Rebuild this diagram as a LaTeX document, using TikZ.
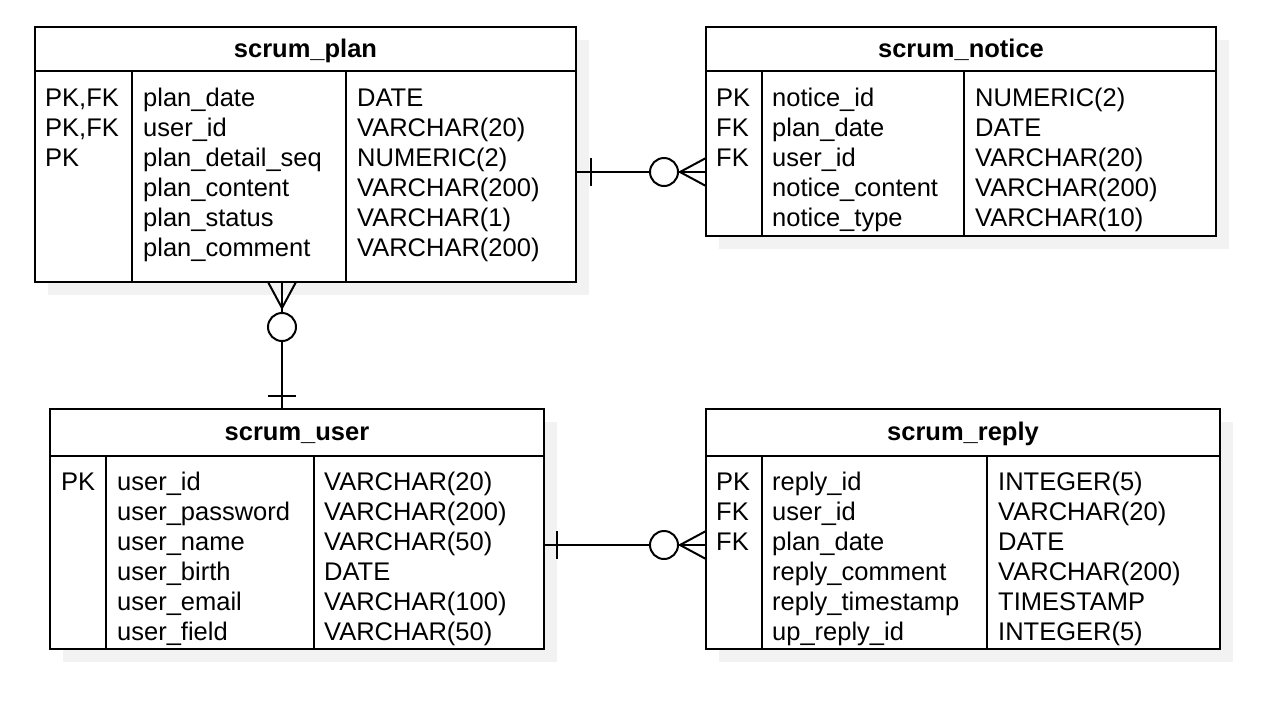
\documentclass[tikz,border=0pt]{standalone}
\usepackage{fontspec}
\setmainfont{Liberation Sans}
\usetikzlibrary{shadows}

\tikzset{
  tbl/.style={draw, line width=2pt, fill=white, inner sep=0pt, outer sep=0pt,
    drop shadow={shadow xshift=13pt, shadow yshift=-13pt, opacity=1, fill=black!5}},
  cell/.style={anchor=base west, inner sep=0pt, font=\fontsize{25.5}{30}\selectfont},
  ttl/.style={anchor=base, inner sep=0pt, font=\fontsize{25.5}{30}\selectfont\bfseries},
  rule/.style={line width=2pt},
  link/.style={line width=2pt},
}

\begin{document}
\begin{tikzpicture}[x=1pt, y=-1pt]
  \useasboundingbox (0,0) rectangle (1286,724);

  % tables
  \node[tbl, minimum width=541, minimum height=255] (plan) at (305.5,154.5) {};
  \node[tbl, minimum width=510, minimum height=209] (notice) at (961,131.5) {};
  \node[tbl, minimum width=494, minimum height=240] (user) at (297,529) {};
  \node[tbl, minimum width=514, minimum height=240] (reply) at (963,529) {};

  \begin{scope}[rule]
    \draw (plan.west |- 0,71) -- (plan.east |- 0,71);
    \draw (plan.south -| 132,0) -- (132,71);
    \draw (plan.south -| 346,0) -- (346,71);
    \draw (notice.west |- 0,71) -- (notice.east |- 0,71);
    \draw (notice.south -| 762,0) -- (762,71);
    \draw (notice.south -| 964,0) -- (964,71);
    \draw (user.west |- 0,456) -- (user.east |- 0,456);
    \draw (user.south -| 106,0) -- (106,456);
    \draw (user.south -| 314,0) -- (314,456);
    \draw (reply.west |- 0,456) -- (reply.east |- 0,456);
    \draw (reply.south -| 762,0) -- (762,456);
    \draw (reply.south -| 987,0) -- (987,456);
  \end{scope}

  % scrum_plan
  \node[ttl] (plan-title) at (305.5,57) {scrum\_plan};
  \foreach \t [count=\i from 0] in {{PK,FK},{PK,FK},PK}
    \node[cell] (plan-k\i) at (45,106+30*\i) {\t};
  \foreach \t [count=\i from 0] in {plan\_date,user\_id,plan\_detail\_seq,plan\_content,plan\_status,plan\_comment}
    \node[cell] (plan-n\i) at (143,106+30*\i) {\t};
  \foreach \t [count=\i from 0] in {DATE,VARCHAR(20),NUMERIC(2),VARCHAR(200),VARCHAR(1),VARCHAR(200)}
    \node[cell] (plan-t\i) at (357,106+30*\i) {\t};

  % scrum_notice
  \node[ttl] (notice-title) at (961,57) {scrum\_notice};
  \foreach \t [count=\i from 0] in {PK,FK,FK}
    \node[cell] (notice-k\i) at (716,106+30*\i) {\t};
  \foreach \t [count=\i from 0] in {notice\_id,plan\_date,user\_id,notice\_content,notice\_type}
    \node[cell] (notice-n\i) at (772,106+30*\i) {\t};
  \foreach \t [count=\i from 0] in {NUMERIC(2),DATE,VARCHAR(20),VARCHAR(200),VARCHAR(10)}
    \node[cell] (notice-t\i) at (975,106+30*\i) {\t};

  % scrum_user
  \node[ttl] (user-title) at (297,440) {scrum\_user};
  \node[cell] (user-k0) at (61,490) {PK};
  \foreach \t [count=\i from 0] in {user\_id,user\_password,user\_name,user\_birth,user\_email,user\_field}
    \node[cell] (user-n\i) at (117,490+30*\i) {\t};
  \foreach \t [count=\i from 0] in {VARCHAR(20),VARCHAR(200),VARCHAR(50),DATE,VARCHAR(100),VARCHAR(50)}
    \node[cell] (user-t\i) at (324,490+30*\i) {\t};

  % scrum_reply
  \node[ttl] (reply-title) at (963,440) {scrum\_reply};
  \foreach \t [count=\i from 0] in {PK,FK,FK}
    \node[cell] (reply-k\i) at (716,490+30*\i) {\t};
  \foreach \t [count=\i from 0] in {reply\_id,user\_id,plan\_date,reply\_comment,reply\_timestamp,up\_reply\_id}
    \node[cell] (reply-n\i) at (772,490+30*\i) {\t};
  \foreach \t [count=\i from 0] in {INTEGER(5),VARCHAR(20),DATE,VARCHAR(200),TIMESTAMP,INTEGER(5)}
    \node[cell] (reply-t\i) at (998,490+30*\i) {\t};

  % relations
  \coordinate (r1) at (0,172);
  \coordinate (r2) at (282,0);
  \coordinate (r3) at (0,545);

  % plan -> notice
  \draw[link] (plan.east |- r1) -- (notice.west |- r1);
  \draw[link] (plan.east |- r1) ++(15,-14) -- ++(0,28);
  \draw[link, fill=white] (notice.west |- r1) ++(-42,0) circle[radius=14];
  \draw[link] (notice.west |- r1) ++(0,-14) -- ++(-26,14) -- ++(26,14);

  % user -> plan
  \draw[link] (plan.south -| r2) -- (user.north -| r2);
  \draw[link] (user.north -| r2) ++(-14,-13) -- ++(28,0);
  \draw[link, fill=white] (plan.south -| r2) ++(0,45) circle[radius=14];
  \draw[link] (plan.south -| r2) ++(-14,0) -- ++(14,26) -- ++(14,-26);

  % user -> reply
  \draw[link] (user.east |- r3) -- (reply.west |- r3);
  \draw[link] (user.east |- r3) ++(13,-14) -- ++(0,28);
  \draw[link, fill=white] (reply.west |- r3) ++(-42,0) circle[radius=14];
  \draw[link] (reply.west |- r3) ++(0,-14) -- ++(-26,14) -- ++(26,14);
\end{tikzpicture}
\end{document}
